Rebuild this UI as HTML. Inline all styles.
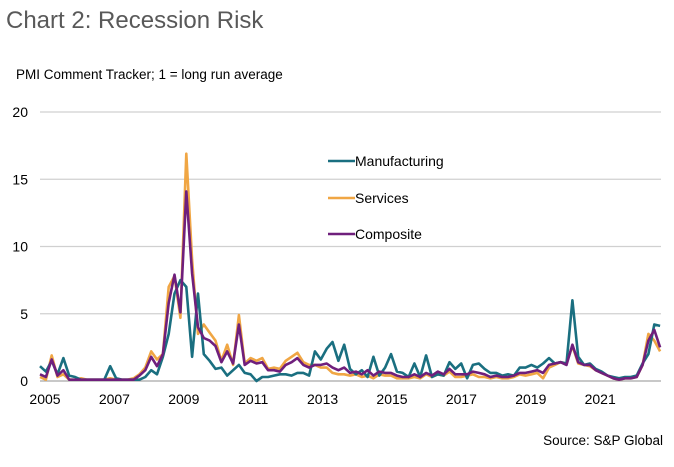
<!DOCTYPE html>
<html><head><meta charset="utf-8"><style>
body{margin:0;background:#fff;width:674px;height:462px;overflow:hidden;font-family:"Liberation Sans",sans-serif}
</style></head><body>
<svg id="chart" width="674" height="462" xmlns="http://www.w3.org/2000/svg">
<text x="6" y="28" font-size="24" fill="#595959" font-family="Liberation Sans, sans-serif">Chart 2: Recession Risk</text>
<text x="16" y="79" font-size="13.5" fill="#000">PMI Comment Tracker; 1 = long run average</text>
<text x="663" y="445" font-size="13.5" fill="#000" text-anchor="end">Source: S&amp;P Global</text>
<g id="grid"></g><g id="yticks"></g><g id="xticks"></g><g id="series"></g><g id="legend"></g>
</svg>
<script>
const yTicks=[0,5,10,15,20];
const xTickYears=[2005,2007,2009,2011,2013,2015,2017,2019,2021];
const startYear=2004.86, stepsPerYear=6;
const manufacturing=[1.1,0.7,1.5,0.5,1.7,0.4, 0.3,0.1,0.1,0.1,0.1,0.1, 1.1,0.2,0.1,0.1,0.1,0.1, 0.3,0.8,0.5,1.8,3.5, 6.5,7.5,7.0,1.8,6.5,2.0, 1.5,0.9,1.0,0.4,0.8,1.2,0.6, 0.5,0.0,0.3,0.3,0.4,0.5, 0.5,0.4,0.6,0.6,0.4,2.2, 1.6,2.4,2.9,1.5,2.7,0.9, 0.5,0.8,0.3,1.8,0.4,1.0, 2.0,0.7,0.6,0.3,1.3,0.3, 1.9,0.3,0.5,0.4,1.4,0.9, 1.3,0.2,1.2,1.3,0.9,0.6, 0.6,0.4,0.5,0.4,1.0,1.0, 1.2,1.0,1.3,1.7,1.3,1.4, 1.3,6.0,1.8,1.2,1.3,0.9, 0.7,0.4,0.3,0.2,0.3,0.3, 0.4,1.3,2.0,4.2,4.1];
const services=[0.3,0.1,1.9,0.3,0.5,0.1, 0.1,0.2,0.1,0.1,0.1,0.1, 0.2,0.1,0.1,0.1,0.2,0.5, 1.0,2.2,1.6,2.0,7.0, 7.8,4.7,16.9,9.0,3.5,4.2, 3.6,3.0,1.5,2.7,1.2,4.9,1.3, 1.7,1.5,1.7,0.9,1.0,0.9, 1.5,1.8,2.1,1.4,1.2,1.2, 1.0,1.0,0.6,0.5,0.5,0.4, 0.5,0.3,0.4,0.2,0.5,0.4, 0.4,0.2,0.2,0.2,0.3,0.2, 0.5,0.3,0.5,0.4,0.7,0.3, 0.3,0.4,0.5,0.3,0.3,0.2, 0.3,0.2,0.2,0.3,0.5,0.4, 0.5,0.6,0.2,1.0,1.2,1.4, 1.3,2.6,1.3,1.2,1.1,0.8, 0.6,0.4,0.2,0.1,0.2,0.2, 0.3,1.2,3.5,3.0,2.2];
const composite=[0.5,0.3,1.6,0.4,0.8,0.1, 0.1,0.1,0.1,0.1,0.1,0.1, 0.1,0.1,0.1,0.1,0.1,0.4, 0.8,1.8,1.1,2.0,5.8, 7.9,5.1,14.1,8.0,4.0,3.2, 3.0,2.6,1.4,2.2,1.3,4.2,1.2, 1.5,1.3,1.4,0.8,0.8,0.7, 1.2,1.4,1.7,1.2,1.0,1.2, 1.2,1.3,1.0,0.8,1.0,0.6, 0.7,0.5,0.8,0.4,0.7,0.6, 0.6,0.4,0.3,0.3,0.5,0.3, 0.6,0.4,0.7,0.5,0.9,0.5, 0.5,0.5,0.7,0.6,0.5,0.3, 0.4,0.3,0.3,0.4,0.6,0.6, 0.7,0.8,0.6,1.2,1.3,1.4, 1.2,2.7,1.4,1.2,1.2,0.8, 0.6,0.4,0.2,0.1,0.2,0.2, 0.3,1.2,3.0,3.8,2.5];
const seriesNames=["Manufacturing","Services","Composite"];
const NS="http://www.w3.org/2000/svg";
const X=yr=>40+(yr-2004.86)*35.1;
const XLabel=yr=>45+(yr-2005)*34.7;
const Y=v=>381-v*13.45;
function mk(tag,attrs,parent){const e=document.createElementNS(NS,tag);for(const k in attrs)e.setAttribute(k,attrs[k]);parent.appendChild(e);return e;}
const grid=document.getElementById('grid'),yt=document.getElementById('yticks'),xt=document.getElementById('xticks'),sg=document.getElementById('series'),lg=document.getElementById('legend');
yTicks.forEach(v=>{
  const l=mk('line',{x1:40,x2:661,y1:Y(v),y2:Y(v),stroke:v===0?'#a6a6a6':'#d0d0d0','stroke-width':1.3},grid);
  
  
  const t=mk('text',{x:28,y:Y(v)+5,'text-anchor':'end','font-size':14,fill:'#000'},yt);
  t.textContent=v;
  
  
});
xTickYears.forEach(yr=>{
  const t=mk('text',{x:XLabel(yr),y:404,'text-anchor':'middle','font-size':14,fill:'#000'},xt);
  t.textContent=yr;
  
  
});
const colors=['#1a6f80','#f0a644','#6f1f7c'];
const data=[manufacturing,services,composite];
[1,0,2].forEach(si=>{
  const pts=data[si].map((v,i)=>X(startYear+i/stepsPerYear).toFixed(1)+','+Y(v).toFixed(1)).join(' ');
  const p=mk('polyline',{points:pts,fill:'none',stroke:colors[si],'stroke-width':2.6,'stroke-linejoin':'round'},sg);
  
  
});
const legY=[161,198,234];
seriesNames.forEach((n,i)=>{
  const g=mk('g',{},lg);
  
  
  mk('line',{x1:328,x2:355,y1:legY[i],y2:legY[i],stroke:colors[i],'stroke-width':2.6},g);
  const t=mk('text',{x:355,y:legY[i]+5,'font-size':14,fill:'#000'},g);
  t.textContent=n;
});
</script>
</body></html>
